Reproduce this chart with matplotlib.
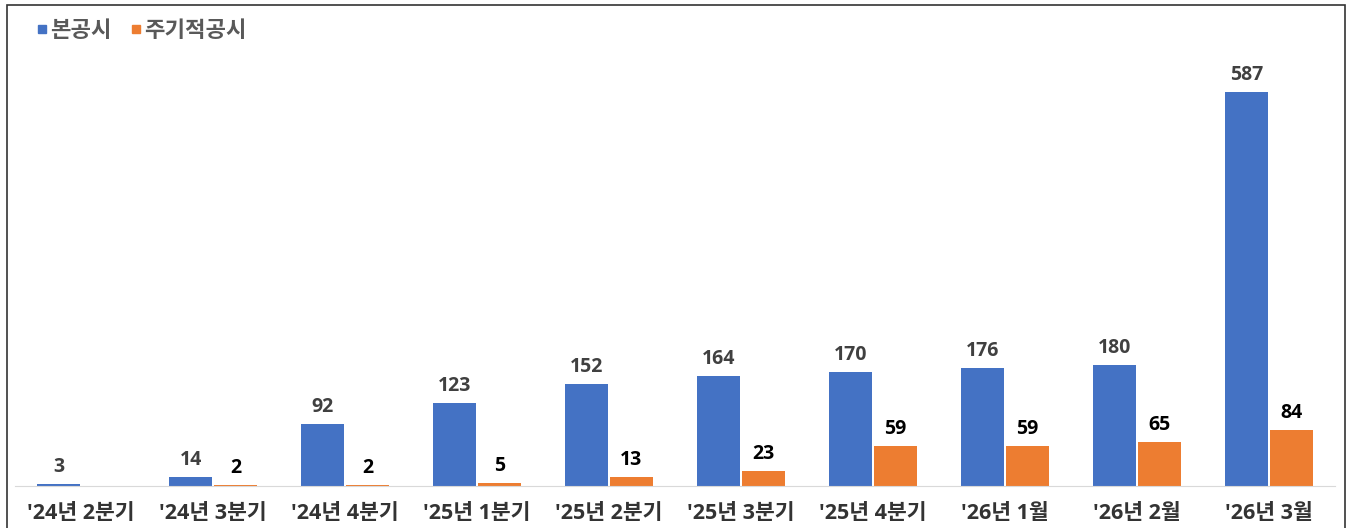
import matplotlib
matplotlib.use("Agg")
import matplotlib.pyplot as plt
import numpy as np
from matplotlib.patches import Rectangle
from matplotlib.lines import Line2D

plt.rcParams['font.family'] = ['Open Sans', 'Noto Sans CJK KR', 'DejaVu Sans']

#%% Data
categories = ["'24년 2분기", "'24년 3분기", "'24년 4분기", "'25년 1분기", "'25년 2분기",
              "'25년 3분기", "'25년 4분기", "'26년 1월", "'26년 2월", "'26년 3월"]
main_disc = [3, 14, 92, 123, 152, 164, 170, 176, 180, 587]
periodic_disc = [0, 2, 2, 5, 13, 23, 59, 59, 65, 84]
series_names = ["본공시", "주기적공시"]

blue = "#4472C4"
orange = "#ED7D31"

#%% Plot
fig = plt.figure(figsize=(13.52, 5.28), dpi=100)
ax = fig.add_axes([15/1352, 42/528, 1320/1352, 446/528])

x = np.arange(len(categories))
width = 0.32
off = 0.17
b1 = ax.bar(x - off, main_disc, width=width, color=blue)
b2 = ax.bar(x + off, periodic_disc, width=width, color=orange)

for rect, v in zip(b1, main_disc):
    ax.annotate(str(v), (rect.get_x() + rect.get_width()/2, v), xytext=(0, 5),
                textcoords="offset points", ha="center", va="bottom",
                fontsize=14, fontweight="bold", color="#404040")
for rect, v in zip(b2, periodic_disc):
    if v == 0:
        continue
    ax.annotate(str(v), (rect.get_x() + rect.get_width()/2, v), xytext=(0, 5),
                textcoords="offset points", ha="center", va="bottom",
                fontsize=14, fontweight="bold", color="black")

ax.set_xlim(-0.5, len(categories) - 0.5)
ax.set_ylim(0, 664)
ax.set_xticks(x)
ax.set_xticklabels(categories, fontsize=15.5, fontweight="bold", color="#333333")
ax.tick_params(axis="x", length=0, pad=12)
ax.set_yticks([])
for s in ["top", "right", "left"]:
    ax.spines[s].set_visible(False)
ax.spines["bottom"].set_color("#d9d9d9")
ax.patch.set_alpha(0)

handles = [Line2D([], [], marker="s", linestyle="none", color=blue, markersize=6),
           Line2D([], [], marker="s", linestyle="none", color=orange, markersize=6)]
fig.legend(handles, series_names, loc="upper left", bbox_to_anchor=(0, 1 - 1/528),
           ncol=2, frameon=False, handletextpad=-0.65, columnspacing=0.1,
           prop={"size": 16, "weight": "bold"}, labelcolor="#595959")

fig.patches.append(Rectangle((7/1352, -0.05), 1338/1352, 1.05 - 5/528, transform=fig.transFigure,
                             fill=False, edgecolor="#333333", linewidth=1.2))

fig.savefig("out.png", dpi=100)
